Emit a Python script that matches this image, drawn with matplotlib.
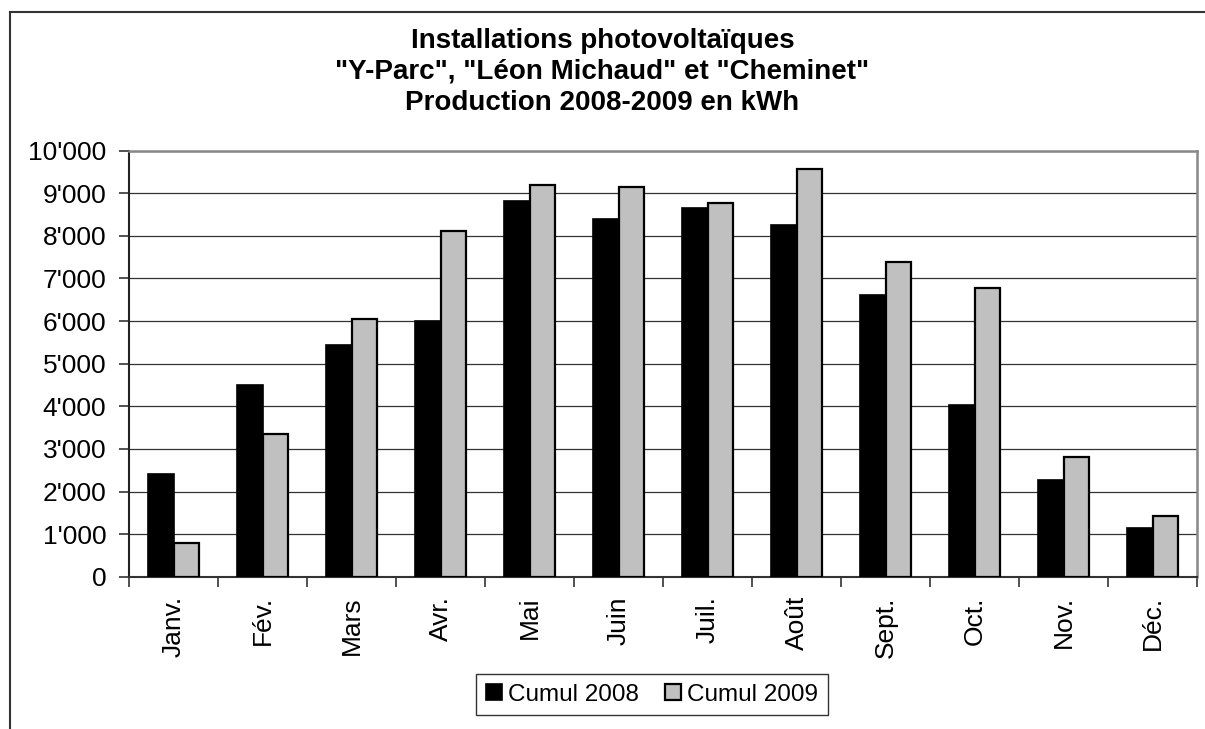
import numpy as np
import matplotlib.pyplot as plt
from matplotlib.lines import Line2D
from matplotlib.ticker import FuncFormatter, FixedLocator

plt.rcParams['font.family'] = ['Liberation Sans', 'DejaVu Sans']

mois = ['Janv.', 'Fév.', 'Mars', 'Avr.', 'Mai', 'Juin', 'Juil.', 'Août',
        'Sept.', 'Oct.', 'Nov.', 'Déc.']
cumul_2008 = [2410, 4510, 5450, 6000, 8830, 8390, 8660, 8250, 6610, 4030, 2260, 1150]
cumul_2009 = [780, 3350, 6050, 8120, 9200, 9140, 8770, 9580, 7390, 6770, 2800, 1430]
yticks = np.arange(0, 10001, 1000)

fig = plt.figure(figsize=(12.05, 7.29), dpi=100)
ax = fig.add_axes([0.1071, 0.2089, 0.8863, 0.5844])

x = np.arange(len(mois))
w = 1 / 3.5
ax.bar(x - w / 2, cumul_2008, w, color='black', edgecolor='black', lw=1.2,
       label='Cumul 2008', zorder=3)
ax.bar(x + w / 2, cumul_2009, w, color='#c0c0c0', edgecolor='black', lw=1.6,
       label='Cumul 2009', zorder=3)

ax.set_xlim(-0.5, len(mois) - 0.5)
ax.set_ylim(0, 10000)
ax.set_yticks(yticks)
ax.yaxis.set_major_formatter(FuncFormatter(lambda v, p: f"{int(v):,}".replace(',', "'")))
ax.yaxis.grid(True, color='#333333', lw=0.9, zorder=0)

# category boundaries as ticks, month names on minor ticks
ax.xaxis.set_major_locator(FixedLocator(np.arange(-0.5, len(mois), 1)))
ax.xaxis.set_major_formatter(FuncFormatter(lambda v, p: ''))
ax.xaxis.set_minor_locator(FixedLocator(x))
ax.set_xticklabels(mois, minor=True, rotation=90, fontsize=19)
ax.tick_params(axis='x', which='major', length=7, width=1.2, color='#333333')
ax.tick_params(axis='x', which='minor', length=0, pad=14)
ax.tick_params(axis='y', length=7, width=1.2, color='#333333', pad=9.5, labelsize=19)

for s in ['top', 'right']:
    ax.spines[s].set_color('#888888')
    ax.spines[s].set_linewidth(1.8)
ax.spines['left'].set_color('#222222')
ax.spines['left'].set_linewidth(1.5)
ax.spines['bottom'].set_color('#333333')
ax.spines['bottom'].set_linewidth(1.5)

fig.text(0.5, 0.962, 'Installations photovoltaïques\n"Y-Parc", "Léon Michaud" et "Cheminet"\nProduction 2008-2009 en kWh',
         ha='center', va='top', fontsize=20, fontweight='bold', linespacing=1.25)

leg = fig.legend(loc='center', bbox_to_anchor=(0.541, 0.0473), ncol=2, fontsize=17.5,
                 frameon=True, fancybox=False, shadow=False, handlelength=0.65,
                 handleheight=0.65, handletextpad=0.25, columnspacing=1.1,
                 borderpad=0.4, borderaxespad=0)
leg.get_frame().set_edgecolor('black')
leg.get_frame().set_linewidth(1.0)

# outer chart frame (only left and top visible)
fig.add_artist(Line2D([10 / 1205, 10 / 1205], [0, 1 - 12 / 729], color='#333333', lw=1.5))
fig.add_artist(Line2D([10 / 1205, 1], [1 - 12 / 729, 1 - 12 / 729], color='#333333', lw=1.5))

fig.savefig('out.png', dpi=100)
